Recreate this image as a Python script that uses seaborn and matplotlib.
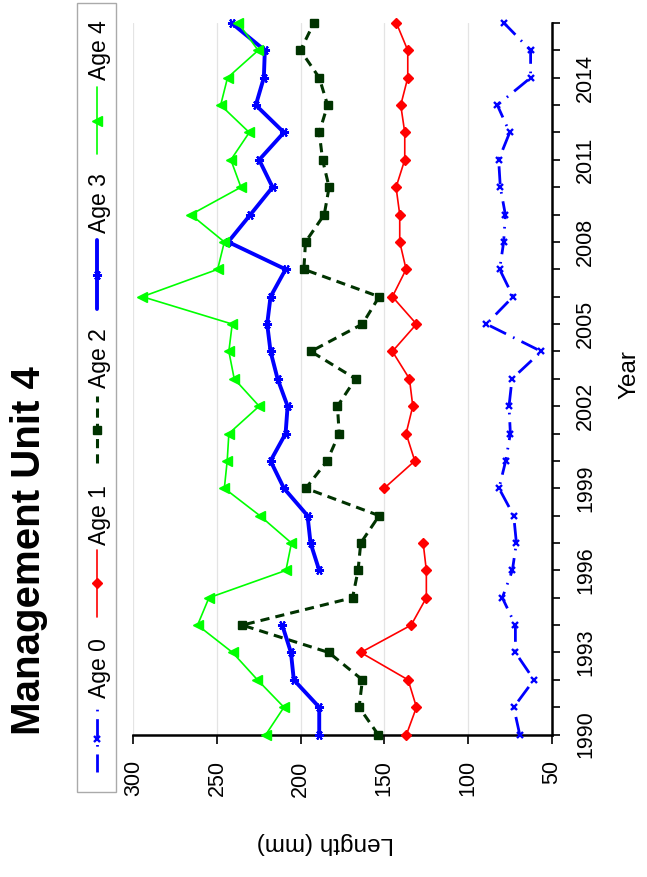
import numpy as np
import matplotlib
matplotlib.use("Agg")
import matplotlib.pyplot as plt
from matplotlib.lines import Line2D
from matplotlib.patches import Rectangle
import seaborn as sns

# ---- data -------------------------------------------------------------
years = list(range(1990, 2017))
series_names = ["Age 0", "Age 1", "Age 2", "Age 3", "Age 4"]

age0 = [69.1, 72.7, 60.6, 71.7, 71.7, 79.5, 73.5, 71.1, 72.7, 81.5,
        77.5, 74.7, 75.5, 73.7, 56.2, 89.0, 73.1, 81.1, 78.7, 77.7,
        80.7, 81.7, 75.1, 82.5, 62.6, 62.6, 78.5]
age1 = [136.8, 130.8, 135.8, 164.1, 134.0, 124.9, 124.9, 126.8, np.nan, 150.1,
        131.8, 137.0, 133.0, 135.0, 145.2, 130.8, 145.2, 137.0, 140.8, 140.8,
        143.0, 137.8, 137.8, 140.2, 136.0, 136.0, 142.8]
age2 = [153.7, 165.1, 163.1, 183.2, 234.9, 169.0, 165.7, 164.1, 153.1, 196.9,
        184.2, 177.0, 178.0, 167.2, 193.9, 163.1, 153.1, 198.1, 197.1, 185.9,
        183.0, 186.9, 188.9, 183.9, 188.9, 200.1, 192.1]
age3 = [188.9, 188.9, 204.1, 205.8, 211.0, np.nan, 188.9, 194.1, 195.9, 210.0,
        218.0, 209.0, 207.8, 213.8, 218.0, 220.0, 218.0, 209.0, 243.3, 230.0,
        216.8, 224.8, 210.0, 226.8, 222.0, 221.4, 241.3]
age4 = [220.8, 210.0, 225.8, 240.7, 261.6, 254.8, 208.8, 205.5, 224.4, 245.6,
        243.9, 242.9, 224.8, 239.7, 242.9, 240.9, 294.6, 249.6, 245.6, 265.6,
        235.7, 241.7, 230.7, 247.8, 243.7, 225.4, 237.3]
series_values = [age0, age1, age2, age3, age4]

length_ticks = [50, 100, 150, 200, 250, 300]
year_labels = [1990, 1993, 1996, 1999, 2002, 2005, 2008, 2011, 2014]

# ---- styling ----------------------------------------------------------
sns.set_style("white")
plt.rcParams["font.family"] = ["Liberation Sans", "DejaVu Sans"]
plt.rcParams["text.color"] = "black"
plt.rcParams["xtick.color"] = "black"
plt.rcParams["ytick.color"] = "black"
plt.rcParams["axes.labelcolor"] = "black"

styles = {
    "Age 0": dict(color="#0000ff", linewidth=2.0, linestyle=(0, (6.5, 2.8, 0.6, 2.8)),
                  marker="x", markersize=5, markeredgewidth=1.7),
    "Age 1": dict(color="#ff0000", linewidth=1.2, linestyle="-",
                  marker="D", markersize=5, markeredgewidth=1.0),
    "Age 2": dict(color="#003300", linewidth=2.2, linestyle=(0, (3, 2)),
                  marker="s", markersize=6, markeredgewidth=1.0),
    "Age 3": dict(color="#0000ff", linewidth=2.8, linestyle="-",
                  marker=(6, 2, 90), markersize=6.5, markeredgewidth=1.5),
    "Age 4": dict(color="#00ff00", linewidth=1.2, linestyle="-",
                  marker="<", markersize=7, markeredgewidth=1.0),
}

W, H = 647, 877
fig = plt.figure(figsize=(W / 100, H / 100), dpi=100)


def fx(x):
    return x / W


def fy(y):
    return 1 - y / H


def runs(xs, vs):
    """Split a series into contiguous runs of finite values."""
    seg_x, seg_v = [], []
    for x, v in zip(xs, vs):
        if np.isfinite(v):
            seg_x.append(x)
            seg_v.append(v)
        elif seg_x:
            yield seg_x, seg_v
            seg_x, seg_v = [], []
    if seg_x:
        yield seg_x, seg_v


# Chart is laid out sideways: length runs left (300) to right (50),
# years run upward along the right-hand axis.
ax = fig.add_axes([fx(133.3), fy(734.6), (551.7 - 133.3) / W, (734.6 - 23.0) / H])

for name, vals in zip(series_names, series_values):
    st = styles[name]
    for seg_years, seg_vals in runs(years, vals):
        sns.lineplot(x=seg_vals, y=seg_years, orient="y", sort=False,
                     estimator=None, ax=ax,
                     color=st["color"], linewidth=st["linewidth"],
                     linestyle=st["linestyle"], marker=st["marker"],
                     markersize=st["markersize"],
                     markeredgewidth=st["markeredgewidth"],
                     markeredgecolor=st["color"], markerfacecolor=st["color"],
                     clip_on=False, zorder=3)

ax.set_xlim(300, 50)
ax.set_ylim(1990, 2016)
ax.set_xticks(length_ticks)
ax.set_xticklabels([str(t) for t in length_ticks])
ax.set_yticks(years)
ax.set_yticklabels([str(y) if y in year_labels else "" for y in years])
ax.yaxis.tick_right()

ax.grid(axis="x", color="#e4e4e4", linewidth=0.9)
ax.grid(axis="y", visible=False)
ax.set_axisbelow(True)
for s in ["left", "top"]:
    ax.spines[s].set_visible(False)
for s in ["bottom", "right"]:
    ax.spines[s].set_visible(True)
    ax.spines[s].set_color("black")
    ax.spines[s].set_linewidth(1.8)

ax.tick_params(axis="x", direction="out", bottom=True, length=6.5, width=1.2,
               pad=12, labelsize=15.5, labelrotation=90)
ax.tick_params(axis="y", direction="out", right=True, left=False, length=6,
               width=1.2, pad=11, labelsize=15.5, labelrotation=90)
for lab in ax.get_yticklabels():
    lab.set_verticalalignment("center")

ax.set_xlabel("Length (mm)", fontsize=17.5, rotation=180)
ax.xaxis.set_label_coords((325 - 133.3) / 418.4, (734.6 - 843) / 711.6)
ax.xaxis.label.set_verticalalignment("center")
ax.xaxis.label.set_horizontalalignment("center")

ax.yaxis.set_label_position("right")
ax.set_ylabel("Year", fontsize=17.5, rotation=90)
ax.yaxis.set_label_coords((629 - 133.3) / 418.4, (734.6 - 375) / 711.6)
ax.yaxis.label.set_verticalalignment("center")
ax.yaxis.label.set_horizontalalignment("center")

# Title
fig.text(fx(40), fy(551), "Management Unit 4", rotation=90, rotation_mode="anchor",
         ha="center", va="baseline", fontsize=29, fontweight="bold")

# Legend, drawn sideways to follow the chart orientation
fig.add_artist(Rectangle((fx(77), fy(792)), (116 - 77) / W, (792 - 3) / H,
                         transform=fig.transFigure, fill=False,
                         edgecolor="#aaaaaa", linewidth=1.0))
legend_pos = {
    "Age 0": (705, 772, 739, 668),
    "Age 1": (550, 617, 583, 515),
    "Age 2": (396, 463, 430, 358),
    "Age 3": (240, 309, 275, 203),
    "Age 4": (87, 154, 121, 50),
}
for name in series_names:
    st = styles[name]
    y0, y1, ym, yt = legend_pos[name]
    ln = Line2D([fx(97)] * 3, [fy(y1), fy(ym), fy(y0)], transform=fig.transFigure,
                color=st["color"], linewidth=st["linewidth"], linestyle=st["linestyle"],
                marker=st["marker"], markersize=st["markersize"],
                markeredgewidth=st["markeredgewidth"], markeredgecolor=st["color"],
                markerfacecolor=st["color"], markevery=[1])
    fig.add_artist(ln)
    fig.text(fx(106), fy(yt), name, rotation=90, rotation_mode="anchor",
             ha="center", va="baseline", fontsize=16.5)

fig.savefig("out.png", dpi=100, facecolor="white")
